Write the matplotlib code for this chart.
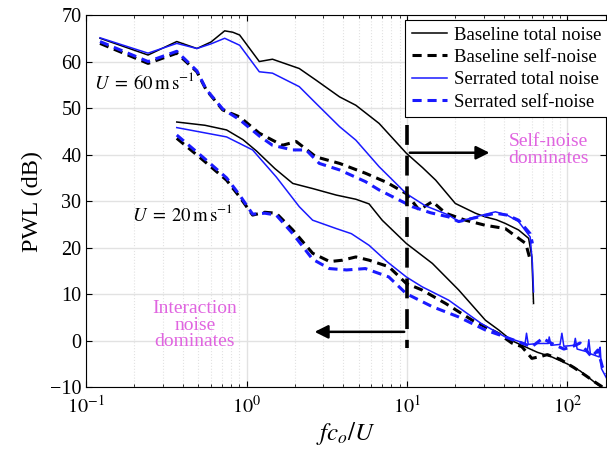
import numpy as np
import matplotlib
matplotlib.use("Agg")
import matplotlib.pyplot as plt

plt.rcParams['font.family'] = ['Liberation Serif', 'DejaVu Serif']
plt.rcParams['mathtext.fontset'] = 'stix'

# U = 60 m/s curves
f60_bt = [0.122, 0.243, 0.367, 0.49, 0.6, 0.73, 0.82, 0.905, 1.2, 1.45, 2.13, 2.71, 3.8, 4.8, 6.7, 9.9,
          12.5, 15.1, 20, 26.7, 30.8, 36, 41, 49.6, 57.3, 60, 61.5]
p60_bt = [65.0, 61.4, 64.3, 62.8, 64.2, 66.6, 66.3, 65.7, 60.0, 60.5, 58.5, 56.0, 52.4, 50.6, 46.7, 40.3,
          37.2, 34.5, 29.5, 27.4, 26.6, 26.0, 25.2, 23.8, 22.0, 18.0, 8.0]
f60_bs = [0.122, 0.243, 0.367, 0.49, 0.56, 0.71, 0.905, 1.2, 1.45, 1.67, 2.04, 2.71, 3.8, 5.5, 7.5, 9.9,
          11.9, 14.4, 17.4, 23.1, 30.8, 41, 49.6, 55, 59]
p60_bs = [63.9, 59.6, 61.8, 57.8, 53.9, 49.6, 48.1, 44.6, 43.1, 42.0, 42.8, 39.5, 38.1, 36.0, 34.0, 31.6,
          28.1, 29.9, 27.4, 25.9, 24.8, 24.1, 22.0, 20.9, 17.0]
f60_st = [0.122, 0.243, 0.367, 0.49, 0.6, 0.73, 0.905, 1.2, 1.45, 2.13, 2.71, 3.8, 4.8, 6.7, 9.9,
          13, 18.2, 21, 28, 35.6, 42, 49.6, 58.6, 60.5, 61.5]
p60_st = [65.1, 61.8, 63.9, 62.8, 63.8, 65.0, 63.5, 57.8, 57.5, 54.6, 51.0, 46.0, 43.1, 37.4, 31.6,
          29.0, 27.0, 25.6, 26.8, 27.7, 27.0, 25.6, 22.3, 16.7, 10.5]
f60_ss = [0.122, 0.243, 0.367, 0.49, 0.56, 0.71, 0.905, 1.2, 1.45, 1.94, 2.35, 2.84, 3.8, 5.5, 6.7, 10.8,
          14, 18.2, 21, 28, 35.6, 42, 49.6, 58.6, 60.5]
p60_ss = [64.3, 60.0, 62.2, 58.0, 54.0, 49.8, 47.5, 44.0, 42.0, 41.0, 41.0, 38.1, 36.7, 34.2, 32.4, 28.8,
          27.5, 26.6, 25.6, 26.6, 27.4, 27.0, 25.9, 23.0, 20.9]

# U = 20 m/s curves
f20_bt = [0.367, 0.55, 0.75, 0.95, 1.15, 1.5, 1.94, 2.58, 3.62, 4.8, 5.8, 7.0, 9.9, 14.4, 21, 30.8, 37.3,
          45, 54.5, 65, 80, 100, 120, 140, 155, 175]
p20_bt = [47.0, 46.3, 45.3, 43.2, 40.8, 37.0, 33.8, 32.7, 31.3, 30.4, 29.4, 25.9, 20.9, 16.6, 10.9, 4.4, 2.3,
          0.0, -1.3, -2.5, -3.5, -5.0, -6.5, -8.3, -9.5, -10.5]
f20_bs = [0.367, 0.536, 0.75, 0.905, 1.09, 1.3, 1.53, 1.94, 2.58, 3.3, 3.96, 4.8, 5.8, 7.7, 9.9, 12.4, 17.4,
          25.5, 37.3, 45, 52, 60, 66, 75, 90, 110, 130, 150, 175]
p20_bs = [43.5, 38.8, 34.5, 30.9, 27.0, 27.6, 27.4, 23.8, 18.8, 17.0, 17.3, 18.0, 17.3, 15.9, 12.3, 10.9, 8.0,
          4.4, 1.5, -0.5, -1.3, -3.8, -3.5, -3.0, -4.0, -5.8, -7.5, -9.0, -10.5]
f20_st = [0.367, 0.75, 1.09, 1.53, 2.13, 2.58, 3.62, 4.5, 5.8, 7.5, 9.9, 12.4, 18.2, 29, 41, 54.5, 55.6, 57,
          66, 76, 77, 79, 90, 92.4, 95, 110, 112, 115, 133, 136, 139, 158, 160, 163, 175]
p20_st = [45.8, 43.8, 41.0, 35.2, 28.8, 25.9, 24.1, 23.0, 20.5, 17.0, 13.7, 11.6, 8.7, 3.7, 0.8, -0.6, 1.6, -0.8,
          -0.6, -0.6, 0.8, -1.0, -0.8, 1.6, -1.2, -1.0, 0.5, -1.8, -2.4, 0.2, -2.8, -3.5, -1.4, -6.0, -8.0]
f20_ss = [0.367, 0.536, 0.75, 0.905, 1.09, 1.3, 1.53, 1.94, 2.58, 3.28, 4.2, 5.5, 7.7, 9.9, 14.4, 21, 30.8,
          41, 60, 70, 80, 95, 107, 120, 142, 155, 165, 175]
p20_ss = [44.2, 39.4, 35.0, 31.3, 27.2, 27.4, 27.0, 23.0, 17.5, 15.5, 15.2, 15.5, 13.7, 10.1, 7.3, 5.1, 2.3,
          0.8, -1.3, 0.5, -0.6, -1.8, -1.3, -0.5, -3.5, -2.0, -5.6, -7.0]

fig = plt.figure(figsize=(6.07, 4.55), dpi=100)
ax = fig.add_axes([0.142, 0.149, 0.857, 0.818])

blue = '#1a1aff'
ds = (3.0, 1.9)
ax.plot(f60_bt, p60_bt, color='k', lw=1.1, label='Baseline total noise')
ax.plot(f60_bs, p60_bs, color='k', lw=2.2, ls=(0, ds), label='Baseline self-noise')
ax.plot(f60_st, p60_st, color=blue, lw=1.1, label='Serrated total noise')
ax.plot(f60_ss, p60_ss, color=blue, lw=2.2, ls=(0, ds), label='Serrated self-noise')
ax.plot(f20_bt, p20_bt, color='k', lw=1.1)
ax.plot(f20_bs, p20_bs, color='k', lw=2.2, ls=(0, ds))
ax.plot(f20_st, p20_st, color=blue, lw=1.1)
ax.plot(f20_ss, p20_ss, color=blue, lw=2.2, ls=(0, ds))

# dividing line and arrows
ax.plot([10, 10], [46.3, -1.6], color='k', lw=2.6, ls=(0, (5.5, 3.0)))
ax.annotate('', xy=(34, 40.4), xytext=(10, 40.4),
            arrowprops=dict(arrowstyle='-|>', color='k', lw=1.8, mutation_scale=20))
ax.annotate('', xy=(2.55, 1.9), xytext=(10, 1.9),
            arrowprops=dict(arrowstyle='-|>', color='k', lw=1.8, mutation_scale=20))

mag = '#e065e0'
ax.text(76, 41.0, 'Self-noise\ndominates', color=mag, fontsize=14,
        ha='center', va='center', linespacing=0.95)
ax.text(0.475, 3.3, 'Interaction\nnoise\ndominates', color=mag, fontsize=14,
        ha='center', va='center', linespacing=0.95)
ax.text(0.112, 55.4, r'$U\;=\;60\,\mathrm{m\,s^{-1}}$', fontsize=13.5, va='center')
ax.text(0.193, 27.2, r'$U\;=\;20\,\mathrm{m\,s^{-1}}$', fontsize=13.5, va='center')

ax.set_xscale('log')
ax.set_xlim(0.1, 175)
ax.set_ylim(-10, 70)
ax.set_yticks(range(-10, 71, 10))
ax.set_xticks([0.1, 1, 10, 100])
ax.set_xticklabels([r'$10^{-1}$', r'$10^{0}$', r'$10^{1}$', r'$10^{2}$'])
ax.grid(True, which='major', color='#e2e2e2', lw=1.0)
ax.grid(True, which='minor', axis='x', color='#e2e2e2', lw=0.8, ls=':')
ax.set_axisbelow(True)
ax.tick_params(which='both', direction='in', top=True, right=True, labelsize=14.5)
ax.tick_params(which='major', length=4)
ax.tick_params(which='minor', length=2)
ax.tick_params(axis='x', pad=6)
ax.set_xlabel(r'$fc_o/U$', fontsize=18, labelpad=2)
ax.set_ylabel('PWL (dB)', fontsize=17.5, labelpad=5)

leg = ax.legend(loc='upper right', bbox_to_anchor=(1.003, 0.987), fontsize=13.5,
                frameon=True, fancybox=False, edgecolor='k', framealpha=1,
                handlelength=1.9, handletextpad=0.35, borderpad=0.35,
                labelspacing=0.28, borderaxespad=0)
leg.get_frame().set_linewidth(0.8)

fig.savefig('out.png', dpi=100)
